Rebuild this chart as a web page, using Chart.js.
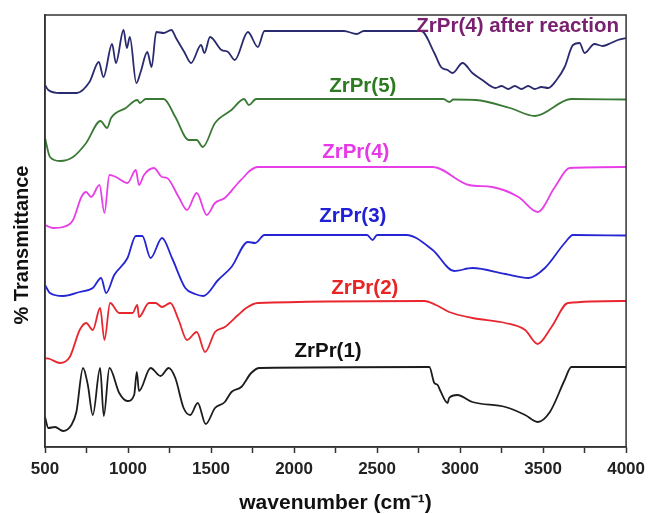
<html>

<head>
    <title>FTIR ZrPr</title>
    <script src="https://cdn.jsdelivr.net/npm/chart.js"></script>
    <style>
        body { margin: 0; background: #fff; }
        #wrap { width: 651px; height: 514px; }
    </style>
</head>

<body>
    <div id="wrap"><canvas id="ftirChart"></canvas></div>

    <script type="text/javascript" charset="utf-8">

        // [wavenumber, transmittance (a.u., stacked)]
        var zrpr4After = [[500, 362], [520, 357], [590, 354], [690, 354], [768, 365], [824, 385], [852, 370], [904, 403],
            [927, 384], [973, 417], [993, 399], [1011, 410], [1050, 364], [1076, 375], [1116, 395], [1142, 380],
            [1170, 415], [1215, 414], [1261, 417], [1289, 409], [1339, 395], [1380, 384], [1440, 402], [1460, 394],
            [1494, 410], [1563, 397], [1603, 395], [1643, 387], [1722, 415], [1782, 400], [1822, 416], [2000, 416],
            [2300, 416], [2378, 413], [2420, 416], [2766, 416], [2845, 394], [2885, 380], [2925, 377], [2955, 374],
            [3015, 384], [3074, 374], [3134, 367], [3213, 359], [3250, 361], [3290, 358], [3330, 361], [3370, 358],
            [3410, 361], [3450, 358], [3490, 360], [3531, 359], [3581, 367], [3630, 380], [3680, 402], [3720, 404],
            [3750, 394], [3809, 403], [3860, 401], [3909, 404], [3950, 407], [4000, 409]];

        var zrpr5 = [[500, 309], [530, 290], [590, 286], [669, 290], [748, 304], [834, 326], [874, 319], [898, 329],
            [987, 339], [1056, 347], [1072, 344], [1106, 348], [1215, 348], [1285, 330], [1365, 307], [1414, 307],
            [1450, 300], [1524, 324], [1623, 337], [1699, 348], [1728, 342], [1772, 348], [2900, 348], [2935, 345],
            [2960, 347.5], [3094, 347], [3300, 339], [3451, 331], [3670, 348], [4000, 347.5]];

        var zrpr4 = [[500, 222], [550, 219], [609, 220], [669, 227], [719, 250], [748, 255], [778, 250], [828, 262],
            [858, 234], [888, 272], [927, 270], [997, 264], [1047, 277], [1066, 262], [1096, 272], [1156, 279],
            [1205, 270], [1235, 269], [1305, 250], [1355, 237], [1414, 254], [1474, 232], [1524, 244], [1583, 249],
            [1663, 264], [1692, 269], [1732, 276], [1782, 280], [2835, 280], [3054, 262], [3193, 260], [3352, 250],
            [3467, 235], [3571, 260], [3660, 279], [4000, 280]];

        var zrpr3 = [[500, 162], [530, 154], [609, 151], [709, 155], [788, 159], [838, 169], [868, 154], [917, 172],
            [997, 189], [1047, 211], [1086, 211], [1136, 189], [1205, 209], [1265, 189], [1345, 159], [1404, 153],
            [1454, 151], [1543, 167], [1623, 180], [1722, 205], [1766, 204], [1822, 212], [2440, 212], [2473, 207],
            [2500, 212], [2676, 212], [2835, 197], [2964, 176], [3074, 179], [3273, 173], [3412, 169], [3511, 179],
            [3630, 204], [3680, 212], [4000, 211.5]];

        var zrpr2 = [[500, 89], [530, 88], [590, 84], [649, 90], [709, 117], [748, 124], [788, 117], [832, 139],
            [858, 107], [892, 144], [947, 134], [1027, 134], [1056, 142], [1066, 130], [1126, 144], [1166, 144],
            [1205, 140], [1255, 144], [1305, 127], [1355, 107], [1414, 115], [1464, 95], [1524, 115], [1583, 120],
            [1663, 132], [1712, 139], [1782, 144], [2785, 146], [2855, 142], [2934, 135], [3074, 129], [3273, 124],
            [3392, 117], [3467, 103], [3551, 120], [3650, 144], [4000, 146]];

        var zrpr1 = [[500, 30], [520, 19], [560, 20], [609, 16], [659, 22], [689, 35], [729, 79], [758, 62],
            [788, 32], [832, 79], [854, 31], [888, 79], [947, 54], [997, 46], [1037, 52], [1053, 75], [1066, 56],
            [1136, 79], [1196, 71], [1245, 79], [1285, 69], [1335, 39], [1375, 32], [1420, 44], [1468, 23],
            [1524, 39], [1583, 45], [1623, 55], [1682, 60], [1742, 74], [1792, 79], [2815, 80], [2845, 64],
            [2865, 62], [2879, 57], [2925, 44], [2934, 49], [2984, 52], [3074, 45], [3273, 40], [3392, 32],
            [3467, 25], [3541, 35], [3630, 67], [3670, 80], [4000, 80]];

        var seriesNames = ["ZrPr(4) after reaction", "ZrPr(5)", "ZrPr(4)", "ZrPr(3)", "ZrPr(2)", "ZrPr(1)"];
        var seriesData = [zrpr4After, zrpr5, zrpr4, zrpr3, zrpr2, zrpr1];
        var lineColors = ["#2a2a6e", "#3b7a35", "#e83ee8", "#2525d4", "#e8262e", "#1c1c1c"];
        var labelColors = ["#7a2070", "#2e7a22", "#e63ae6", "#2020d6", "#e82424", "#111111"];
        // where each name sits, in data units
        var labelAnchors = [[3347, 421], [2414, 361], [2372, 295], [2354, 230.5], [2426, 158.5], [2205, 95.5]];

        var xTicks = [500, 1000, 1500, 2000, 2500, 3000, 3500, 4000];

        var FONT = '"Liberation Sans", Arial, sans-serif';

        var textPlugin = {
            id: 'ftirText',
            afterDraw: function (chart) {
                const ctx = chart.ctx;
                const a = chart.chartArea;
                const xs = chart.scales.x;
                const ys = chart.scales.y;
                ctx.save();
                // box frame
                ctx.strokeStyle = '#333';
                ctx.lineWidth = 1.5;
                ctx.strokeRect(a.left, a.top, a.right - a.left, a.bottom - a.top);

                // series names
                ctx.font = 'bold 20.5px ' + FONT;
                ctx.textAlign = 'center';
                ctx.textBaseline = 'middle';
                for (var i = 0; i < seriesNames.length; i++) {
                    ctx.fillStyle = labelColors[i];
                    ctx.fillText(seriesNames[i], xs.getPixelForValue(labelAnchors[i][0]), ys.getPixelForValue(labelAnchors[i][1]));
                }

                // y title
                ctx.fillStyle = '#111';
                ctx.font = 'bold 20px ' + FONT;
                ctx.translate(22, (a.top + a.bottom) / 2 + 14);
                ctx.rotate(-Math.PI / 2);
                ctx.fillText('% Transmittance', 0, 0);
                ctx.restore();
            }
        };

        function loadPage() {
            const datasets = [];
            for (var i = 0; i < seriesData.length; i++) {
                datasets.push({
                    label: seriesNames[i],
                    data: seriesData[i].map(p => ({ x: p[0], y: p[1] })),
                    borderColor: lineColors[i],
                    borderWidth: 1.8,
                    pointRadius: 0,
                    fill: false,
                    cubicInterpolationMode: 'monotone'
                });
            }

            new Chart(document.getElementById('ftirChart'), {
                type: 'line',
                data: { datasets: datasets },
                options: {
                    responsive: true,
                    maintainAspectRatio: false,
                    animation: false,
                    layout: { padding: { top: 15, right: 19, left: 0, bottom: 0 } },
                    plugins: {
                        legend: { display: false },
                        tooltip: { enabled: false }
                    },
                    scales: {
                        x: {
                            type: 'linear',
                            min: 500,
                            max: 4000,
                            afterFit: function (scale) { scale.height = 67; },
                            afterBuildTicks: function (scale) {
                                const t = [];
                                for (var v = 500; v <= 4000; v += 250) t.push({ value: v });
                                scale.ticks = t;
                            },
                            ticks: {
                                color: '#222',
                                padding: 6,
                                maxRotation: 0,
                                autoSkip: false,
                                font: { family: FONT, size: 17, weight: 'bold' },
                                callback: function (v) { return xTicks.includes(v) ? String(v) : ''; }
                            },
                            grid: {
                                drawOnChartArea: false,
                                tickLength: 6,
                                tickWidth: 1.5,
                                tickColor: '#333'
                            },
                            border: { color: '#333', width: 1.5 },
                            title: {
                                display: true,
                                text: 'wavenumber (cm\u207B\u00B9)',
                                color: '#111',
                                font: { family: FONT, size: 21, weight: 'bold', lineHeight: 1 },
                                padding: { top: 0, bottom: 0 }
                            }
                        },
                        y: {
                            min: 0,
                            max: 432,
                            afterFit: function (scale) { scale.width = 45; },
                            ticks: { display: false },
                            grid: { display: false },
                            border: { color: '#333', width: 1.5 }
                        }
                    }
                },
                plugins: [textPlugin]
            });
        }

        loadPage();
    </script>
</body>

</html>
